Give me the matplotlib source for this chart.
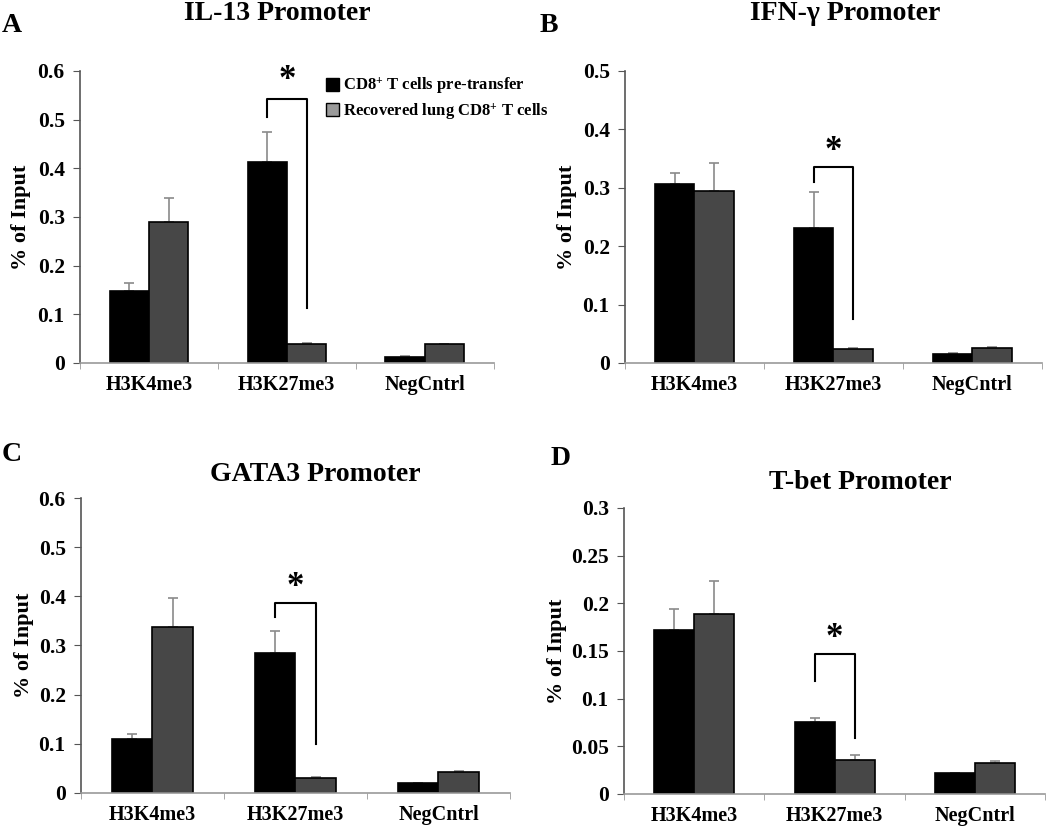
"""
Four-panel ChIP bar chart: % of input at four promoters, pre-transfer vs recovered CD8+ T cells.
"""

import matplotlib
matplotlib.use("Agg")
import matplotlib.pyplot as plt
from matplotlib.patches import Patch
from matplotlib.ticker import FormatStrFormatter, FixedLocator
import numpy as np

plt.rcParams["font.family"] = ["Liberation Serif", "DejaVu Serif"]
plt.rcParams["font.weight"] = "bold"
plt.rcParams["mathtext.fontset"] = "custom"
plt.rcParams["mathtext.rm"] = "Liberation Serif:bold"
plt.rcParams["mathtext.default"] = "rm"

categories = ["H3K4me3", "H3K27me3", "NegCntrl"]
series_names = ["CD8$^{+}$ T cells pre-transfer", "Recovered lung CD8$^{+}$ T cells"]
panel_letters = ["A", "B", "C", "D"]
titles = ["IL-13 Promoter", "IFN-\u03b3 Promoter", "GATA3 Promoter", "T-bet Promoter"]

# bar heights, per panel
pre_values = [
    [0.148, 0.412, 0.013],
    [0.307, 0.231, 0.016],
    [0.110, 0.285, 0.020],
    [0.172, 0.076, 0.022],
]
rec_values = [
    [0.290, 0.038, 0.038],
    [0.294, 0.024, 0.025],
    [0.337, 0.030, 0.042],
    [0.189, 0.036, 0.033],
]
# upper error (SEM) per bar
pre_err = [
    [0.017, 0.062, 0.001],
    [0.018, 0.061, 0.001],
    [0.010, 0.045, 0.001],
    [0.022, 0.004, 0.0005],
]
rec_err = [
    [0.048, 0.002, 0.001],
    [0.049, 0.001, 0.003],
    [0.060, 0.003, 0.003],
    [0.034, 0.005, 0.002],
]

y_max = [0.6, 0.5, 0.6, 0.3]
y_step = [0.1, 0.1, 0.1, 0.05]

# significance bracket on H3K27me3: left foot, top, right foot, star
bracket_left = [0.505, 0.310, 0.358, 0.119]
bracket_top = [0.543, 0.336, 0.386, 0.147]
bracket_right = [0.112, 0.076, 0.099, 0.059]
star_y = [0.580, 0.362, 0.418, 0.163]

# layout (figure fractions)
axes_rects = [
    [0.0762, 0.5627, 0.394, 0.3518],
    [0.5952, 0.5627, 0.397, 0.3518],
    [0.0771, 0.0446, 0.4086, 0.3554],
    [0.5943, 0.0434, 0.401, 0.3446],
]
title_pos = [(0.264, 0.984), (0.805, 0.984), (0.300, 0.428), (0.819, 0.419)]
letter_pos = [(0.002, 0.984), (0.514, 0.984), (0.002, 0.468), (0.524, 0.463)]
ylabel_x = [-0.118, -0.115, -0.11, -0.135]

black = "#000000"
grey = "#474747"
bar_w = 0.285

fig = plt.figure(figsize=(10.5, 8.3), dpi=100)

for i in range(4):
    ax = fig.add_axes(axes_rects[i])
    x = np.arange(len(categories))
    for xs, vals, errs, col in [
        (x - bar_w / 2, pre_values[i], pre_err[i], black),
        (x + bar_w / 2, rec_values[i], rec_err[i], grey),
    ]:
        ax.bar(xs, vals, width=bar_w, color=col, edgecolor="black",
               linewidth=1.2, zorder=2)
        ax.errorbar(xs, vals, yerr=[np.zeros(len(vals)), errs], fmt="none",
                    ecolor="#8a8a8a", elinewidth=1.2, capsize=3.5,
                    capthick=1.2, zorder=1)

    # significance bracket
    xl = x[1] - bar_w / 2
    xr = x[1] + bar_w / 2
    ax.plot([xl, xl, xr, xr],
            [bracket_left[i], bracket_top[i], bracket_top[i], bracket_right[i]],
            color="black", linewidth=1.5, zorder=3)
    ax.text(x[1], star_y[i], "*", ha="center", va="center", fontsize=25,
            fontweight="bold")

    ax.set_xlim(-0.5, 2.5)
    ax.set_ylim(0, y_max[i])
    ax.set_yticks(np.arange(0, y_max[i] + 1e-9, y_step[i]))
    ax.yaxis.set_major_formatter(FormatStrFormatter("%g"))
    ax.set_xticks(x)
    ax.set_xticklabels(categories)
    ax.xaxis.set_minor_locator(FixedLocator([-0.5, 0.5, 1.5, 2.5]))
    ax.tick_params(axis="x", which="major", length=0, pad=9, labelsize=14.5)
    ax.tick_params(axis="x", which="minor", length=4, color="#999999")
    ax.tick_params(axis="y", length=5, color="#555555", pad=6, labelsize=15.5)

    for s in ["top", "right"]:
        ax.spines[s].set_visible(False)
    ax.spines["left"].set_color("#555555")
    ax.spines["bottom"].set_color("#999999")
    ax.spines["left"].set_linewidth(1.2)
    ax.spines["bottom"].set_linewidth(1.2)

    ax.set_ylabel("% of Input", fontsize=16, fontweight="bold")
    ax.yaxis.set_label_coords(ylabel_x[i], 0.5)

    fig.text(title_pos[i][0], title_pos[i][1], titles[i], ha="center",
             va="center", fontsize=20, fontweight="bold")
    fig.text(letter_pos[i][0], letter_pos[i][1], panel_letters[i], ha="left",
             va="top", fontsize=20, fontweight="bold")

    if i == 0:
        handles = [Patch(facecolor=black, edgecolor="black"),
                   Patch(facecolor="#9a9a9a", edgecolor="black")]
        ax.legend(handles, series_names, loc="upper left",
                  bbox_to_anchor=(0.595, 0.985), frameon=False, fontsize=12,
                  handlelength=0.8, handleheight=0.8, handletextpad=0.2,
                  borderpad=0, borderaxespad=0, labelspacing=0.3)

fig.savefig("out.png", dpi=100)
